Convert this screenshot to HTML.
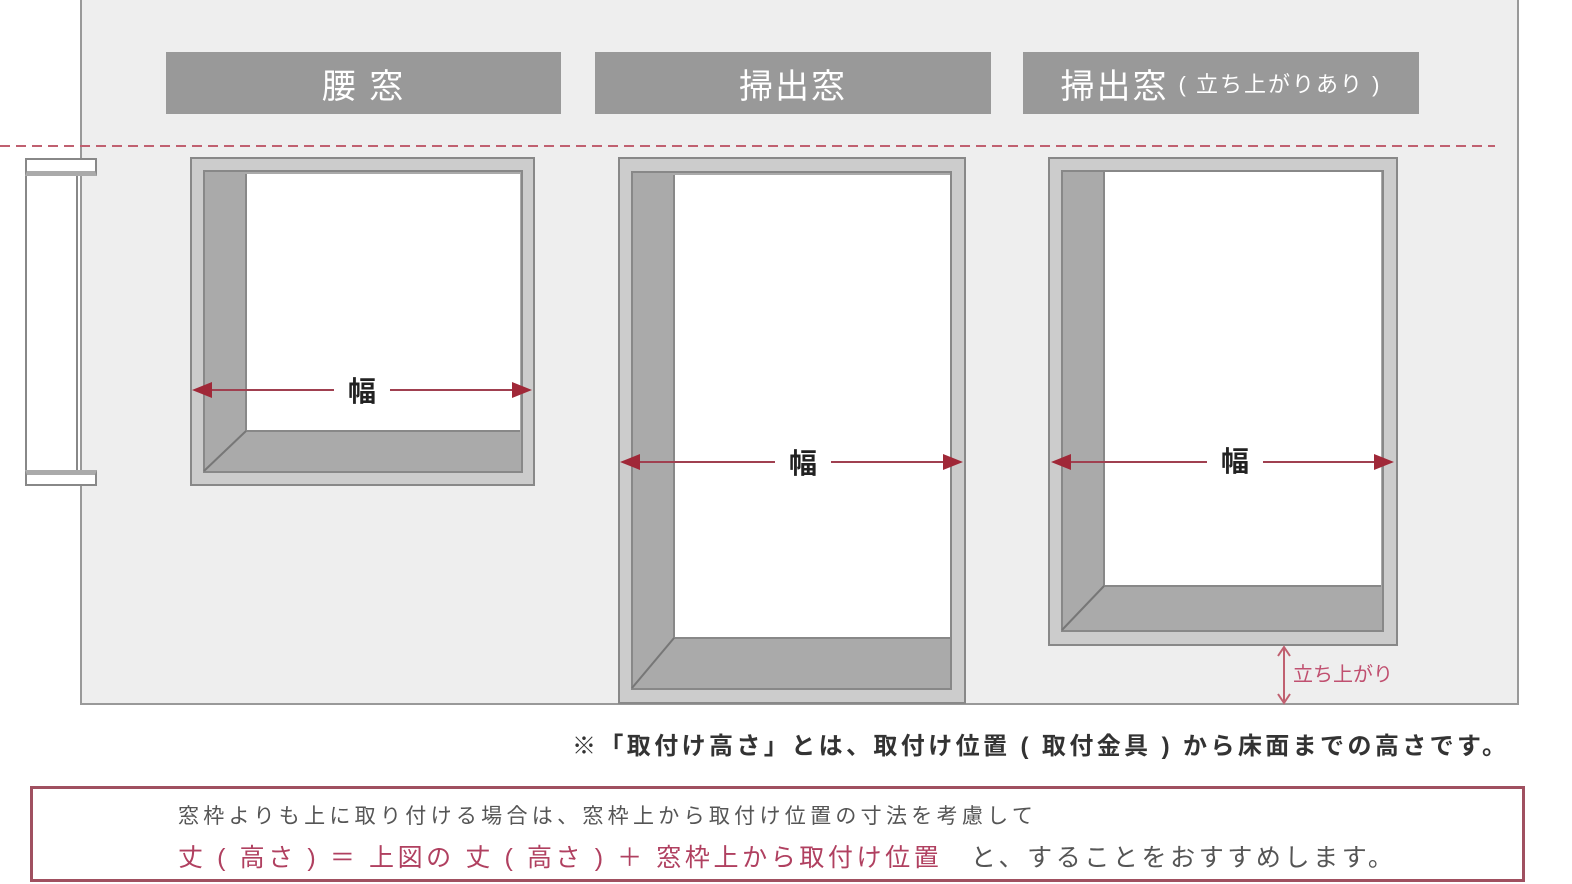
<!DOCTYPE html>
<html><head><meta charset="utf-8"><style>
body{margin:0;width:1572px;height:884px;background:#fff;position:relative;overflow:hidden;font-family:"Liberation Sans","Noto Sans CJK JP",sans-serif}
div{position:absolute;box-sizing:border-box}
.hd{top:52px;height:62px;background:#999;color:#fff;font-size:34px;display:flex;align-items:center;justify-content:center;letter-spacing:2px}
.of{background:#ccc;border:2px solid #888}
.in{background:#aaa;border:2px solid #888}
.wh{background:#fff;border-left:2px solid #888;border-bottom:2px solid #888}
.lb{font-size:28px;font-weight:bold;color:#222;background:#fff;padding:0 14px;transform:translate(-50%,-50%)}
</style></head><body>
<div style="left:80px;top:0;width:1439px;height:705px;background:#eee;border:2px solid #999;border-top:none"></div>
<div class="hd" style="left:166px;width:395px">腰 窓</div>
<div class="hd" style="left:595px;width:396px">掃出窓</div>
<div class="hd" style="left:1023px;width:396px">掃出窓<span style="font-size:22px;margin-left:10px">( 立ち上がりあり )</span></div>
<svg style="position:absolute;left:0;top:0" width="1572" height="884">
<line x1="0" y1="146" x2="1495" y2="146" stroke="#c06070" stroke-width="2" stroke-dasharray="10,6"/>
</svg>
<div style="left:25px;top:158px;width:53px;height:328px;background:#fff;border:2px solid #888"></div>
<div style="left:25px;top:158px;width:72px;height:18px;background:#fff;border:2px solid #888;border-bottom:5px solid #aaa"></div>
<div style="left:25px;top:470px;width:72px;height:16px;background:#fff;border:2px solid #888;border-top:5px solid #aaa"></div>
<div class="of" style="left:190px;top:157px;width:345px;height:329px"></div>
<div class="in" style="left:203px;top:170px;width:320px;height:303px"></div>
<div class="wh" style="left:245px;top:174px;width:275px;height:258px"></div>
<div class="of" style="left:618px;top:157px;width:348px;height:547px"></div>
<div class="in" style="left:631px;top:171px;width:321px;height:519px"></div>
<div class="wh" style="left:673px;top:175px;width:277px;height:464px"></div>
<div class="of" style="left:1048px;top:157px;width:350px;height:489px"></div>
<div class="in" style="left:1061px;top:170px;width:323px;height:462px"></div>
<div class="wh" style="left:1103px;top:172px;width:278px;height:415px"></div>
<svg style="position:absolute;left:0;top:0" width="1572" height="884">
<g stroke="#777" stroke-width="2"><line x1="204" y1="471" x2="246" y2="431"/><line x1="632" y1="688" x2="674" y2="638"/><line x1="1062" y1="630" x2="1104" y2="586"/></g>
<defs><marker id="a" markerWidth="10" markerHeight="10" refX="8" refY="5" orient="auto"><path d="M0,1 L10,5 L0,9z" fill="#a02838"/></marker></defs>
<g stroke="#a04050" stroke-width="2" marker-end="url(#a)" marker-start="url(#a)">
<line x1="362" y1="390" x2="528" y2="390"/><line x1="362" y1="390" x2="196" y2="390"/>
<line x1="803" y1="462" x2="959" y2="462"/><line x1="803" y1="462" x2="624" y2="462"/>
<line x1="1235" y1="462" x2="1390" y2="462"/><line x1="1235" y1="462" x2="1055" y2="462"/>
</g>
<g stroke="#c06070" stroke-width="2"><line x1="1284" y1="648" x2="1284" y2="702"/><path d="M1278,656 L1284,647 L1290,656 M1278,694 L1284,703 L1290,694" fill="none"/></g>
</svg>
<div class="lb" style="left:362px;top:390px">幅</div>
<div class="lb" style="left:803px;top:462px">幅</div>
<div class="lb" style="left:1235px;top:460px">幅</div>
<div style="left:1293px;top:658px;font-size:20px;color:#c05070">立ち上がり</div>
<div style="left:572px;top:726px;font-size:24px;color:#333;font-weight:bold;letter-spacing:3.4px;white-space:nowrap">※「取付け高さ」とは、取付け位置 ( 取付金具 ) から床面までの高さです。</div>
<div style="left:30px;top:786px;width:1495px;height:96px;border:3px solid #a05060;background:#fff"></div>
<div style="left:178px;top:800px;font-size:21px;color:#555;letter-spacing:4.3px;white-space:nowrap">窓枠よりも上に取り付ける場合は、窓枠上から取付け位置の寸法を考慮して</div>
<div style="left:178px;top:838px;font-size:25px;color:#555;white-space:nowrap;letter-spacing:3.6px"><span style="color:#b04060">丈 ( 高さ ) ＝ 上図の 丈 ( 高さ ) ＋ 窓枠上から取付け位置</span>　と、することをおすすめします。</div>
</body></html>
